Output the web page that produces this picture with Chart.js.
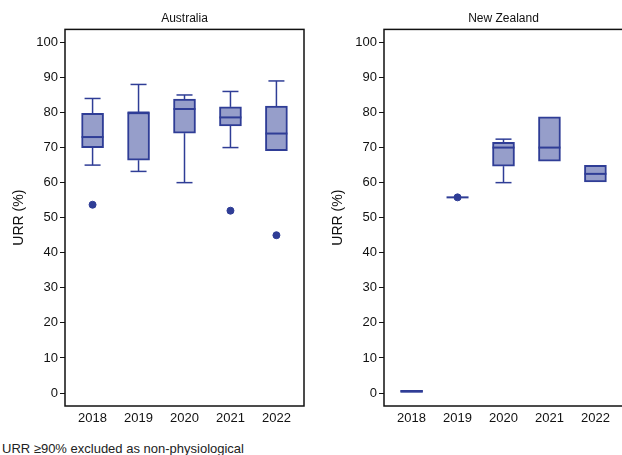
<!DOCTYPE html>
<html>
<head>
<meta charset="utf-8">
<script src="https://cdn.jsdelivr.net/npm/chart.js@4"></script>
<style>
  html, body { margin: 0; padding: 0; background: #fff; overflow: hidden; }
  body { width: 622px; height: 455px; position: relative; }
  .panel { position: absolute; top: 0; width: 311px; height: 430px; }
  #note { position: absolute; left: 2px; top: 441px; font: 13px "Liberation Sans", Arial, sans-serif; color: #222; white-space: nowrap; }
</style>
</head>
<body>
<div class="panel" style="left:0"><canvas id="au"></canvas></div>
<div class="panel" style="left:319px"><canvas id="nz"></canvas></div>
<div id="note">URR ≥90% excluded as non-physiological</div>
<script>
// data
const years = [2018, 2019, 2020, 2021, 2022];
const yTicks = [0, 10, 20, 30, 40, 50, 60, 70, 80, 90, 100];

const auMin = [65, 63.2, 60, 70, 69.1];
const auQ1 = [70, 66.4, 74.1, 76.2, 69.1];
const auMed = [73, 80, 81, 78.6, 74];
const auQ3 = [79.8, 80, 83.8, 81.6, 81.8];
const auMax = [84, 88, 85, 86, 89];
const auOutX = [2018, 2021, 2022];
const auOutY = [53.7, 52, 45];

const nzMin = [0.2, 55.8, 60, 66.1, 60.2];
const nzQ1 = [0.2, 55.8, 64.7, 66.1, 60.2];
const nzMed = [0.5, 55.8, 70, 70, 62.5];
const nzQ3 = [0.8, 55.8, 71.5, 78.8, 64.9];
const nzMax = [0.8, 55.8, 72.4, 78.8, 64.9];
const nzOutX = [2019];
const nzOutY = [55.8];

const FONT = '"Liberation Sans", Arial, sans-serif';
const STROKE = '#2f3d96';
const FILL = '#969eca';
const BOX_W = 22;
const CAP_W = 16;

// whiskers + medians, drawn through the chart's scales
const boxLines = {
    id: 'boxLines',
    beforeDatasetsDraw(chart, args, opts) {
        const { ctx, scales: { x, y } } = chart;
        ctx.save();
        ctx.strokeStyle = STROKE;
        ctx.lineWidth = 1.5;
        years.forEach((yr, i) => {
            const cx = x.getPixelForValue(yr);
            const segs = [];
            if (opts.max[i] > opts.q3[i]) segs.push([opts.q3[i], opts.max[i]]);
            if (opts.min[i] < opts.q1[i]) segs.push([opts.min[i], opts.q1[i]]);
            segs.forEach(([a, b]) => {
                ctx.beginPath();
                ctx.moveTo(cx, y.getPixelForValue(a));
                ctx.lineTo(cx, y.getPixelForValue(b));
                ctx.stroke();
            });
            if (opts.max[i] > opts.q3[i]) {
                const py = y.getPixelForValue(opts.max[i]);
                ctx.beginPath(); ctx.moveTo(cx - CAP_W / 2, py); ctx.lineTo(cx + CAP_W / 2, py); ctx.stroke();
            }
            if (opts.min[i] < opts.q1[i]) {
                const py = y.getPixelForValue(opts.min[i]);
                ctx.beginPath(); ctx.moveTo(cx - CAP_W / 2, py); ctx.lineTo(cx + CAP_W / 2, py); ctx.stroke();
            }
        });
        ctx.restore();
    },
    afterDatasetsDraw(chart, args, opts) {
        const { ctx, scales: { x, y } } = chart;
        ctx.save();
        ctx.strokeStyle = STROKE;
        ctx.lineWidth = 2;
        years.forEach((yr, i) => {
            const cx = x.getPixelForValue(yr);
            const py = y.getPixelForValue(opts.med[i]);
            ctx.beginPath();
            ctx.moveTo(cx - BOX_W / 2, py);
            ctx.lineTo(cx + BOX_W / 2, py);
            ctx.stroke();
        });
        // frame round the plot area
        const a = chart.chartArea;
        ctx.strokeStyle = '#111';
        ctx.lineWidth = 1.5;
        ctx.strokeRect(a.left, a.top, a.right - a.left, a.bottom - a.top);
        ctx.restore();
    }
};

function makePanel(id, title, mn, q1, med, q3, mx, outX, outY) {
    return new Chart(document.getElementById(id), {
        type: 'bar',
        data: {
            datasets: [{
                type: 'bar',
                data: years.map((yr, i) => ({ x: yr, y: [q1[i], q3[i]] })),
                backgroundColor: FILL,
                borderColor: STROKE,
                borderWidth: 2,
                borderSkipped: false,
                barThickness: BOX_W,
                order: 2
            }, {
                type: 'scatter',
                data: outX.map((v, i) => ({ x: v, y: outY[i] })),
                backgroundColor: STROKE,
                borderColor: STROKE,
                pointRadius: 3.5,
                order: 1
            }]
        },
        options: {
            responsive: false,
            animation: false,
            layout: { padding: { left: 0, right: 7, top: 0, bottom: 0 } },
            plugins: {
                legend: { display: false },
                tooltip: { enabled: false },
                title: {
                    display: true,
                    text: title,
                    fullSize: false,
                    color: '#111',
                    font: { family: FONT, size: 12, weight: 'normal' },
                    padding: { top: 11, bottom: 4 }
                },
                boxLines: { min: mn, q1: q1, med: med, q3: q3, max: mx }
            },
            scales: {
                x: {
                    type: 'linear',
                    min: 2017.4,
                    max: 2022.6,
                    offset: false,
                    afterBuildTicks: s => { s.ticks = years.map(v => ({ value: v })); },
                    afterFit: s => { s.height = 24; },
                    grid: { display: false },
                    border: { display: false },
                    ticks: {
                        color: '#111',
                        font: { family: FONT, size: 13 },
                        padding: -3,
                        maxRotation: 0,
                        callback: v => String(v)
                    }
                },
                y: {
                    min: -3.7,
                    max: 103.7,
                    afterBuildTicks: s => { s.ticks = yTicks.map(v => ({ value: v })); },
                    afterFit: s => { s.width = 65; },
                    grid: { drawOnChartArea: false, drawTicks: true, tickLength: 5, tickColor: '#111', tickWidth: 1 },
                    border: { display: false },
                    ticks: { color: '#111', font: { family: FONT, size: 13 }, padding: 2 },
                    title: {
                        display: true,
                        text: 'URR (%)',
                        color: '#111',
                        font: { family: FONT, size: 14 },
                        padding: { top: 11, bottom: 0 }
                    }
                }
            }
        },
        plugins: [boxLines]
    });
}

function sizeCanvas(id) {
    const c = document.getElementById(id);
    c.width = 311; c.height = 430;
    c.style.width = '311px'; c.style.height = '430px';
}
sizeCanvas('au');
sizeCanvas('nz');

makePanel('au', 'Australia', auMin, auQ1, auMed, auQ3, auMax, auOutX, auOutY);
makePanel('nz', 'New Zealand', nzMin, nzQ1, nzMed, nzQ3, nzMax, nzOutX, nzOutY);
</script>
</body>
</html>
